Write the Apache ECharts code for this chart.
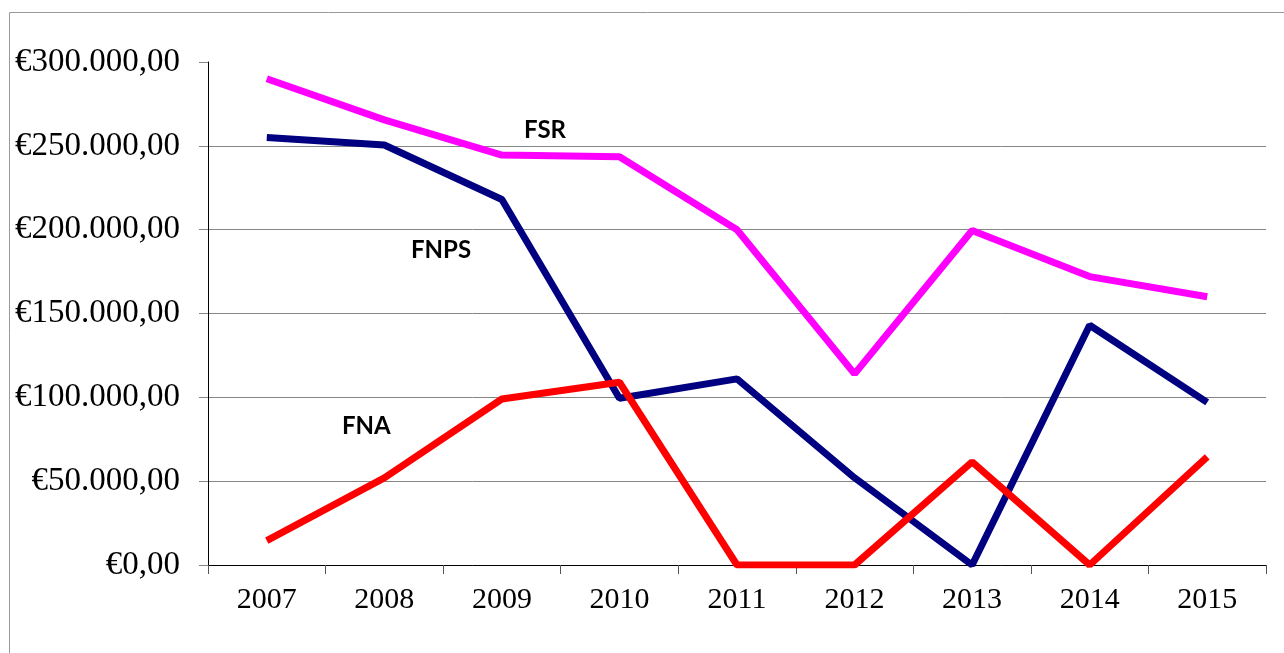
<!DOCTYPE html>
<html>
<head>
<meta charset="utf-8">
<script src="https://cdn.jsdelivr.net/npm/echarts@6/dist/echarts.min.js"></script>
<style>
  html, body { margin: 0; padding: 0; background: #fff; }
  #chart { width: 1284px; height: 653px; }
</style>
</head>
<body>
<div id="chart"></div>
<script>
// anni
const years = ['2007', '2008', '2009', '2010', '2011', '2012', '2013', '2014', '2015']
// valori (euro)
const fsr = [290000, 265500, 244500, 243500, 200000, 114000, 199500, 172000, 160000]
const fnps = [255000, 250500, 218000, 99500, 111000, 52000, 0, 143000, 97000]
const fna = [14500, 52000, 99000, 109000, 0, 0, 61500, 0, 64500]

const serif = '"Liberation Serif", "DejaVu Serif", serif'
const labelFont = 'bold 24px Lato, "Open Sans", sans-serif'
const gridGray = '#868686'

function euro(v) { // €300.000,00
  const s = String(Math.round(v)).replace(/\B(?=(\d{3})+(?!\d))/g, '.')
  return '€' + s + ',00'
}

const chart = echarts.init(document.getElementById('chart'))

chart.setOption({
  animation: false,
  grid: { left: 208, right: 18, top: 62, bottom: 88, containLabel: false },
  xAxis: {
    type: 'category',
    data: years,
    boundaryGap: true,
    axisLine: { lineStyle: { color: '#000', width: 1 } },
    axisTick: { show: true, length: 9, lineStyle: { color: '#555' } },
    axisLabel: { color: '#000', fontFamily: serif, fontSize: 30, margin: 20 }
  },
  yAxis: {
    type: 'value',
    min: 0,
    max: 300000,
    interval: 50000,
    axisLine: { show: true, lineStyle: { color: '#000', width: 1 } },
    axisTick: { show: true, length: 9, lineStyle: { color: gridGray } },
    axisLabel: { color: '#000', fontFamily: serif, fontSize: 33, margin: 28, formatter: euro },
    splitLine: {
      show: true,
      lineStyle: { color: [gridGray, gridGray, gridGray, gridGray, gridGray, gridGray, 'rgba(0,0,0,0)'], width: 1 }
    }
  },
  series: [
    { name: 'FSR', type: 'line', data: fsr, showSymbol: false, lineStyle: { color: '#FF00FF', width: 7 }, itemStyle: { color: '#FF00FF' } },
    { name: 'FNPS', type: 'line', data: fnps, showSymbol: false, lineStyle: { color: '#000080', width: 7 }, itemStyle: { color: '#000080' } },
    { name: 'FNA', type: 'line', data: fna, showSymbol: false, lineStyle: { color: '#FF0000', width: 7 }, itemStyle: { color: '#FF0000' } }
  ],
  graphic: [
    { // cornice esterna
      type: 'rect',
      shape: { x: 9.5, y: 12.5, width: 1300, height: 700 },
      style: { fill: null, stroke: '#999', lineWidth: 1 },
      silent: true
    },
    { type: 'text', x: 524, y: 130, style: { text: 'FSR', font: labelFont, fill: '#000', textVerticalAlign: 'middle' } },
    { type: 'text', x: 411, y: 250, style: { text: 'FNPS', font: labelFont, fill: '#000', textVerticalAlign: 'middle' } },
    { type: 'text', x: 342, y: 426, style: { text: 'FNA', font: labelFont, fill: '#000', textVerticalAlign: 'middle' } }
  ]
})
</script>
</body>
</html>
